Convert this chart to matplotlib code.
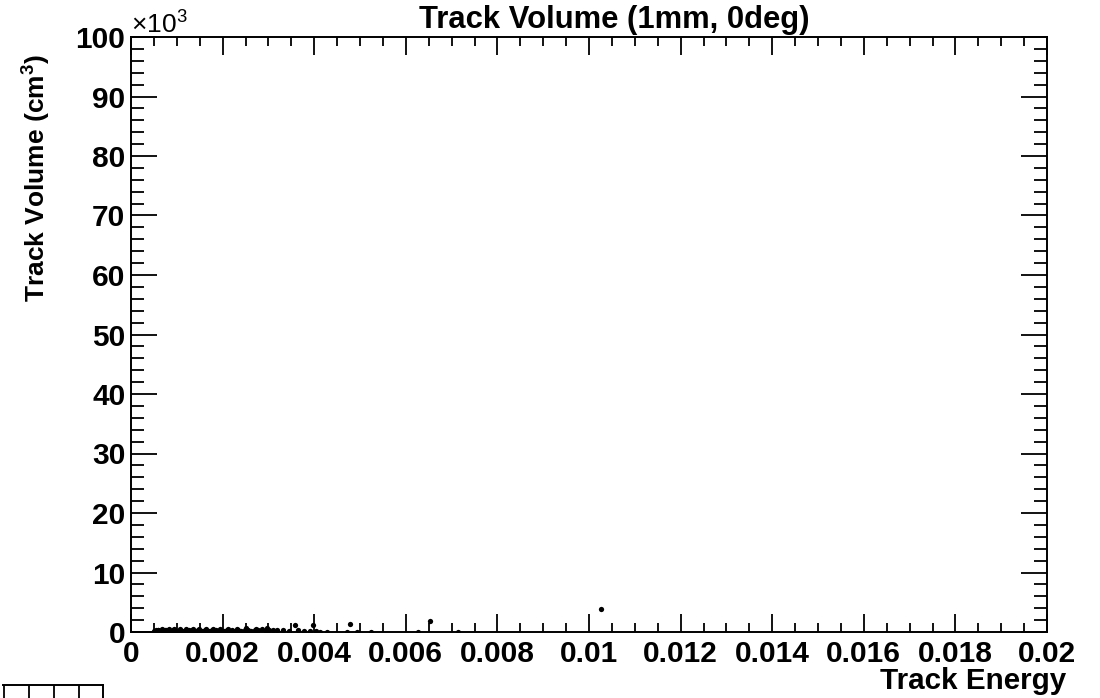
import matplotlib.pyplot as plt
from matplotlib.ticker import MultipleLocator, FuncFormatter

plt.rcParams['font.family'] = ['Liberation Sans', 'DejaVu Sans']
plt.rcParams['mathtext.fontset'] = 'custom'
plt.rcParams['mathtext.rm'] = 'Liberation Sans'
plt.rcParams['mathtext.bf'] = 'Liberation Sans:bold'

# track energy vs. track volume (cm^3)
energia = [0.00050, 0.00052, 0.00055, 0.00058, 0.00061, 0.00064, 0.00067, 0.00070,
           0.00073, 0.00076, 0.00079, 0.00082, 0.00086, 0.00089, 0.00092, 0.00096,
           0.00099, 0.00103, 0.00106, 0.00110, 0.00114, 0.00118, 0.00122, 0.00126,
           0.00130, 0.00134, 0.00138, 0.00143, 0.00147, 0.00152, 0.00156, 0.00161,
           0.00166, 0.00171, 0.00176, 0.00181, 0.00186, 0.00192, 0.00197, 0.00203,
           0.00209, 0.00215, 0.00221, 0.00228, 0.00234, 0.00241, 0.00248, 0.00255,
           0.00262, 0.00270, 0.00278, 0.00286, 0.00294, 0.00302, 0.00310,
           0.00054, 0.00060, 0.00068, 0.00075, 0.00084, 0.00094, 0.00108, 0.00121,
           0.00136, 0.00149, 0.00163, 0.00178, 0.00195, 0.00212, 0.00231, 0.00252,
           0.00273, 0.00298,
           0.00318, 0.00332, 0.00345, 0.00358, 0.00365, 0.00378, 0.00390, 0.00397,
           0.00405, 0.00413, 0.00427, 0.00471, 0.00478, 0.00494, 0.00523, 0.00627,
           0.00653, 0.00715, 0.01026]
volumen = [150, 220, 90, 300, 180, 120, 260, 200,
           80, 310, 150, 240, 110, 190, 280, 130,
           220, 90, 330, 170, 250, 120, 200, 300,
           140, 260, 180, 90, 320, 210, 150, 270,
           120, 230, 350, 160, 280, 110, 240, 190,
           330, 130, 270, 210, 380, 150, 300, 420,
           180, 260, 340, 450, 200, 380, 300,
           380, 420, 450, 400, 460, 430, 480, 440,
           470, 500, 450, 520, 480, 560, 500, 600,
           520, 650,
           350, 420, 180, 1150, 300, 200, 150, 1100,
           250, 0, 30, 60, 1280, 40, 40, 40,
           1820, 40, 3850]

xticks = [0.0, 0.002, 0.004, 0.006, 0.008, 0.01, 0.012, 0.014, 0.016, 0.018, 0.02]
yticks = [0, 10, 20, 30, 40, 50, 60, 70, 80, 90, 100]  # in units of 10^3 cm^3

fig = plt.figure(figsize=(11, 6.98), dpi=100)
ax = fig.add_axes([131/1100, 1-632/698, 916/1100, 595/698])

ax.plot(energia, volumen, 'o', color='black', markersize=3.8, markeredgewidth=0)

ax.set_xlim(0, 0.02)
ax.set_ylim(0, 100000)
ax.set_xticks(xticks)
ax.set_yticks([v*1000 for v in yticks])
ax.xaxis.set_minor_locator(MultipleLocator(0.0005))
ax.yaxis.set_minor_locator(MultipleLocator(2000))
ax.xaxis.set_major_formatter(FuncFormatter(lambda v, p: '%g' % round(v, 4)))
ax.yaxis.set_major_formatter(FuncFormatter(lambda v, p: '%d' % round(v/1000)))

for s in ax.spines.values():
    s.set_linewidth(1.4)

ax.tick_params(axis='both', which='both', direction='in', top=True, right=True, width=1.3)
ax.tick_params(axis='x', which='major', length=13, pad=6)
ax.tick_params(axis='x', which='minor', length=6.5)
ax.tick_params(axis='y', which='major', length=18.5, pad=4)
ax.tick_params(axis='y', which='minor', length=9.5)
for lab in ax.get_xticklabels() + ax.get_yticklabels():
    lab.set_fontsize(21.5)
    lab.set_fontweight('bold')

fig.text(614.5/1100, 1-20/698, 'Track Volume (1mm, 0deg)', ha='center', va='center',
         fontsize=22.3, fontweight='bold')
fig.text(131/1100, 1-33/698, r'$\times10^{3}$', ha='left', va='baseline', fontsize=19)
fig.text(1066/1100, 1-681/698, 'Track Energy', ha='right', va='center',
         fontsize=21.3, fontweight='bold')
fig.text(36/1100, 1-54/698, r'Track Volume (cm$^{\mathbf{3}}$)', ha='center', va='top',
         rotation=90, fontsize=19, fontweight='bold')

# edge of the next pad
ax2 = fig.add_axes([3/1100, -0.05, 100/1100, 0.05 + 1-685/698])
ax2.set_xlim(0, 100)
ax2.set_ylim(0, 1)
ax2.spines['left'].set_visible(False)
ax2.spines['bottom'].set_visible(False)
ax2.spines['top'].set_linewidth(1.4)
ax2.spines['right'].set_linewidth(1.4)
ax2.set_xticks([1, 26, 51, 76])
ax2.set_yticks([])
ax2.tick_params(axis='x', direction='in', top=True, bottom=False, labeltop=False,
                labelbottom=False, length=10, width=1.3)

fig.savefig('out.png', dpi=100)
